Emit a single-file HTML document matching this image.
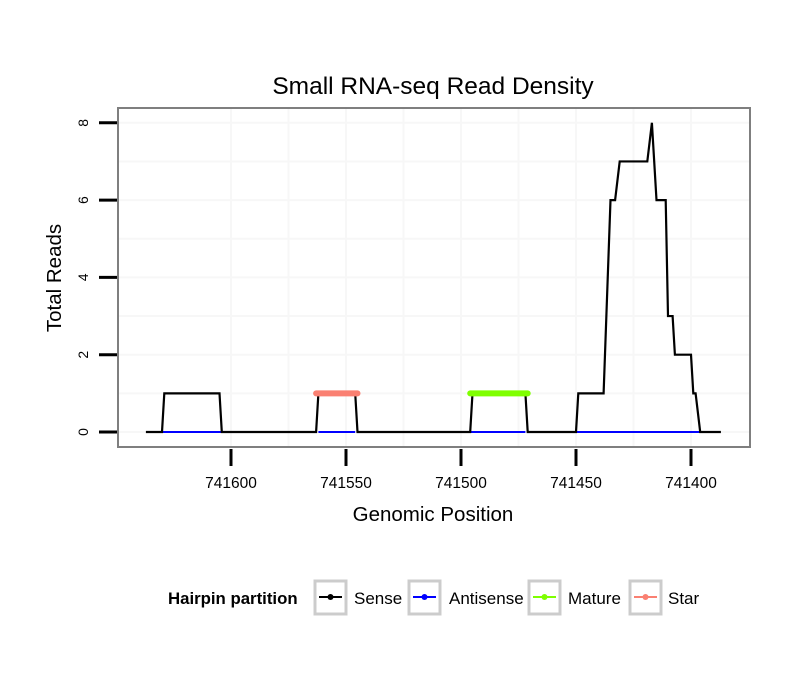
<!DOCTYPE html>
<html><head><meta charset="utf-8"><style>
body{margin:0;background:#fff;font-family:"Liberation Sans",sans-serif}
</style></head><body>
<svg id="chart" width="810" height="690" xmlns="http://www.w3.org/2000/svg" font-family="Liberation Sans, sans-serif">
<rect width="810" height="690" fill="#fff"/>
<text x="433" y="94" font-size="24.5" text-anchor="middle">Small RNA-seq Read Density</text>
<g id="grid"></g>
<g id="series"></g>
<rect x="118" y="108" width="632" height="339" fill="none" stroke="#7f7f7f" stroke-width="2"/>
<g id="axes"></g>
<text x="433" y="521" font-size="20.5" text-anchor="middle">Genomic Position</text>
<text transform="translate(61,278) rotate(-90)" font-size="20.5" text-anchor="middle">Total Reads</text>
<g>
<text x="168" y="604" font-size="16.8" font-weight="bold">Hairpin partition</text>
<g><rect x="315" y="581" width="31" height="33" fill="#fff" stroke="#ccc" stroke-width="3"/><line x1="319" y1="597" x2="342" y2="597" stroke="#000" stroke-width="2"/><circle cx="330.5" cy="597" r="3" fill="#000"/><text x="354" y="604" font-size="17">Sense</text></g>
<g><rect x="409" y="581" width="31" height="33" fill="#fff" stroke="#ccc" stroke-width="3"/><line x1="413" y1="597" x2="436" y2="597" stroke="#0000ff" stroke-width="2"/><circle cx="424.5" cy="597" r="3" fill="#0000ff"/><text x="449" y="604" font-size="17">Antisense</text></g>
<g><rect x="529" y="581" width="31" height="33" fill="#fff" stroke="#ccc" stroke-width="3"/><line x1="533" y1="597" x2="556" y2="597" stroke="#7fff00" stroke-width="2"/><circle cx="544.5" cy="597" r="3" fill="#7fff00"/><text x="568" y="604" font-size="17">Mature</text></g>
<g><rect x="630" y="581" width="31" height="33" fill="#fff" stroke="#ccc" stroke-width="3"/><line x1="634" y1="597" x2="657" y2="597" stroke="#fa8072" stroke-width="2"/><circle cx="645.5" cy="597" r="3" fill="#fa8072"/><text x="668" y="604" font-size="17">Star</text></g>
</g>
</svg>
<script>
const senseX=[741637,741630,741629,741605,741604,741563,741562,741546,741545,741496,741495,741472,741471,741450,741449,741438,741435,741433,741431,741419,741417,741415,741411,741410,741408,741407,741400,741399,741398,741396,741387];
const senseY=[0,0,1,1,0,0,1,1,0,0,1,1,0,0,1,1,6,6,7,7,8,6,6,3,3,2,2,1,1,0,0];
const antisenseRanges=[[741630,741604],[741562,741546],[741496,741472],[741450,741396]];
const matureRange=[741496,741471];
const matureValue=1;
const starRange=[741563,741545];
const starValue=1;
const xTicks=[741600,741550,741500,741450,741400];
const yTicks=[0,2,4,6,8];
const xGrid=[741575,741525,741475,741425];
const yGrid=[1,3,5,7];

const NS="http://www.w3.org/2000/svg";
const X=v=>231+(741600-v)*2.3;
const Y=v=>432-v*38.65;
function mk(t,a,p){const e=document.createElementNS(NS,t);for(const k in a)e.setAttribute(k,a[k]);p.appendChild(e);return e;}
const grid=document.getElementById('grid'),ser=document.getElementById('series'),axes=document.getElementById('axes');
yTicks.concat(yGrid).forEach(v=>{const l=mk('line',{x1:118,x2:750,y1:Y(v),y2:Y(v),stroke:'#f7f7f7','stroke-width':2},grid);

});
xGrid.concat(xTicks).forEach(v=>{const l=mk('line',{x1:X(v),x2:X(v),y1:108,y2:447,stroke:'#f7f7f7','stroke-width':2},grid);

});
antisenseRanges.forEach(r=>{const l=mk('line',{x1:X(r[0]),x2:X(r[1]),y1:Y(0),y2:Y(0),stroke:'#0000ff','stroke-width':2},ser);

});
const p=mk('polyline',{points:senseX.map((x,i)=>X(x)+','+Y(senseY[i])).join(' '),fill:'none',stroke:'#000','stroke-width':2.2},ser);


const m=mk('line',{x1:X(matureRange[0]),x2:X(matureRange[1]),y1:Y(matureValue),y2:Y(matureValue),stroke:'#7fff00','stroke-width':6,'stroke-linecap':'round'},ser);


const s=mk('line',{x1:X(starRange[0]),x2:X(starRange[1]),y1:Y(starValue),y2:Y(starValue),stroke:'#fa8072','stroke-width':6,'stroke-linecap':'round'},ser);


yTicks.forEach(v=>{const t=mk('line',{x1:99,x2:117,y1:Y(v),y2:Y(v),stroke:'#000','stroke-width':3},axes);


const tx=mk('text',{transform:`translate(88,${Y(v)}) rotate(-90)`,'font-size':14,'text-anchor':'middle'},axes);tx.textContent=v;

});
xTicks.forEach(v=>{const t=mk('line',{x1:X(v),x2:X(v),y1:449,y2:466,stroke:'#000','stroke-width':3},axes);


const tx=mk('text',{x:X(v),y:488,'font-size':15.5,'text-anchor':'middle'},axes);tx.textContent=v;

});
</script>
</body></html>
